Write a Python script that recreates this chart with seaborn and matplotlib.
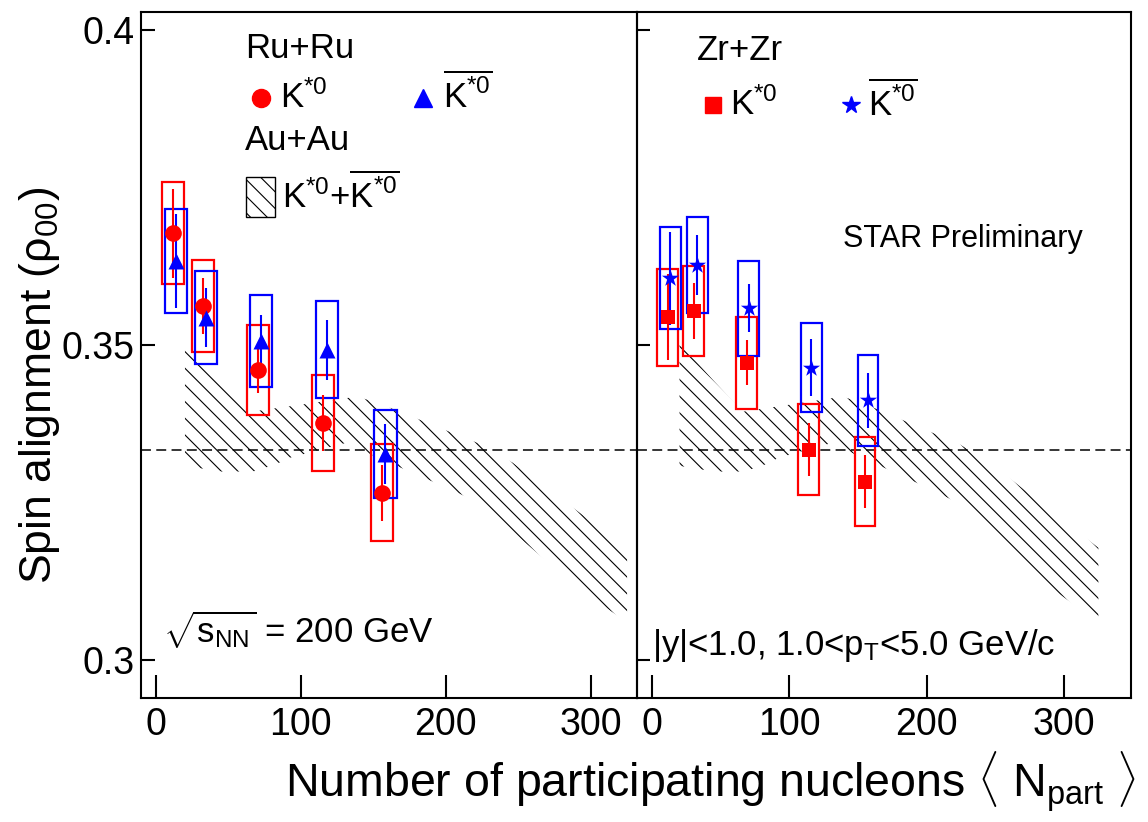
import numpy as np
import pandas as pd
import matplotlib
matplotlib.use("Agg")
import matplotlib.pyplot as plt
from matplotlib.patches import Rectangle
import seaborn as sns

# ---------------- data ----------------
# Ru+Ru
ru_k_x = [12.1, 32.3, 70.4, 115.2, 156.1]
ru_k_y = [0.3677, 0.3562, 0.3460, 0.3376, 0.3265]
ru_k_stat = [0.0071, 0.0045, 0.0037, 0.0044, 0.0045]
ru_k_sys = [0.0081, 0.0073, 0.0071, 0.0076, 0.0077]

ru_kb_x = [13.9, 34.6, 72.3, 117.8, 158.4]
ru_kb_y = [0.3633, 0.3543, 0.3507, 0.3492, 0.3327]
ru_kb_stat = [0.0075, 0.0047, 0.0040, 0.0047, 0.0047]
ru_kb_sys = [0.0083, 0.0074, 0.0073, 0.0077, 0.0070]

# Zr+Zr
zr_k_x = [11.4, 30.5, 68.9, 114.2, 155.1]
zr_k_y = [0.3544, 0.3554, 0.3472, 0.3334, 0.3283]
zr_k_stat = [0.0068, 0.0045, 0.0036, 0.0042, 0.0042]
zr_k_sys = [0.0077, 0.0072, 0.0073, 0.0072, 0.0071]

zr_kb_x = [13.3, 32.9, 70.5, 116.1, 157.3]
zr_kb_y = [0.3606, 0.3627, 0.3558, 0.3464, 0.3412]
zr_kb_stat = [0.0074, 0.0048, 0.0038, 0.0045, 0.0044]
zr_kb_sys = [0.0081, 0.0076, 0.0075, 0.0071, 0.0072]

# Au+Au band (upper / lower edges)
au_up_x = [20.1, 45.4, 66.1, 84.2, 102.8, 138.6, 153.1, 187.6, 204.8, 223.4, 246.1, 286.8, 325.0]
au_up_y = [0.3503, 0.3442, 0.3394, 0.3400, 0.3406, 0.3418, 0.3408, 0.3376, 0.3360, 0.3343, 0.3313, 0.3243, 0.3178]
au_lo_x = [20.1, 45.4, 67.0, 82.2, 92.5, 130.4, 203.9, 221.2, 226.9, 294.4, 325.0]
au_lo_y = [0.3308, 0.3299, 0.3299, 0.3310, 0.3321, 0.3344, 0.3270, 0.3251, 0.3241, 0.3108, 0.3060]

ref_level = 1.0 / 3.0
x_ticks = [0, 100, 200, 300]
y_ticks = [0.3, 0.35, 0.4]
y_ticklabels = ["0.3", "0.35", "0.4"]

# ---------------- style ----------------
sns.set_style("ticks")
plt.rcParams["font.family"] = ["Liberation Sans", "DejaVu Sans"]
plt.rcParams["mathtext.fontset"] = "custom"
plt.rcParams["mathtext.rm"] = "Liberation Sans"
plt.rcParams["mathtext.it"] = "Liberation Sans:italic"
plt.rcParams["mathtext.bf"] = "Liberation Sans:bold"
plt.rcParams["mathtext.sf"] = "Liberation Sans"
plt.rcParams["hatch.linewidth"] = 0.8
plt.rcParams["hatch.color"] = "black"
for key in ("text.color", "axes.labelcolor", "xtick.color", "ytick.color",
            "axes.edgecolor", "xtick.labelcolor", "ytick.labelcolor"):
    plt.rcParams[key] = "black"

BOX_HW = 7.6
RED = "#ff0000"
BLUE = "#0000ff"
HATCH = "\\\\"

fig = plt.figure(figsize=(11.48, 8.22), dpi=100)
ax1 = fig.add_axes([0.1224, 0.1512, 0.4328, 0.8346])
ax2 = fig.add_axes([0.5552, 0.1512, 0.4298, 0.8346])
ax1.set_xlim(-10.55, 332.1)
ax2.set_xlim(-10.6, 348.6)
for ax in (ax1, ax2):
    ax.set_ylim(0.2940, 0.4029)


def draw_band(ax):
    px = list(au_up_x) + list(au_lo_x[::-1])
    py = list(au_up_y) + list(au_lo_y[::-1])
    ax.fill(px, py, facecolor="none", edgecolor="black", linewidth=0,
            hatch=HATCH, zorder=1)


def draw_series(ax, xs, ys, stat, sysr, color, marker, ms):
    for x, y, sy in zip(xs, ys, sysr):
        ax.add_patch(Rectangle((x - BOX_HW, y - sy), 2 * BOX_HW, 2 * sy,
                               fill=False, edgecolor=color, lw=1.6, zorder=3))
    ax.errorbar(xs, ys, yerr=stat, fmt="none", ecolor=color,
                elinewidth=1.5, capsize=0, zorder=4)
    df = pd.DataFrame({"x": xs, "y": ys})
    sns.scatterplot(data=df, x="x", y="y", marker=marker, color=color,
                    s=ms ** 2, linewidth=0, ax=ax, zorder=5, legend=False)


for ax in (ax1, ax2):
    draw_band(ax)
    ax.axhline(ref_level, color="black", lw=1.1, dashes=(6.5, 3.5), zorder=2)

draw_series(ax1, ru_k_x, ru_k_y, ru_k_stat, ru_k_sys, RED, "o", 12)
draw_series(ax1, ru_kb_x, ru_kb_y, ru_kb_stat, ru_kb_sys, BLUE, "^", 11.5)
draw_series(ax2, zr_k_x, zr_k_y, zr_k_stat, zr_k_sys, RED, "s", 9.6)
draw_series(ax2, zr_kb_x, zr_kb_y, zr_kb_stat, zr_kb_sys, BLUE, "*", 13)

for ax in (ax1, ax2):
    ax.set_xlabel("")
    ax.set_ylabel("")
    ax.set_xticks(x_ticks)
    ax.set_yticks(y_ticks)
    ax.minorticks_off()
    for sp in ax.spines.values():
        sp.set_visible(True)
        sp.set_linewidth(1.5)
        sp.set_color("black")
    ax.tick_params(axis="both", direction="in", width=1.5, labelsize=27,
                   top=False, right=False, colors="black")
    ax.tick_params(axis="x", length=16.5, pad=7)
    ax.tick_params(axis="y", length=10, pad=4)

ax1.set_yticklabels(y_ticklabels)
ax2.tick_params(axis="y", labelleft=False, length=9)
ax2.patch.set_alpha(0.0)

# ---------------- legends / annotations ----------------
FS = 25
ax1.text(0.2103, 0.9325, "Ru+Ru", transform=ax1.transAxes, fontsize=FS, va="baseline")
ax1.plot([0.2419], [0.8738], marker="o", ms=13, color=RED, transform=ax1.transAxes, ls="none")
ax1.text(0.2807, 0.8606, r"$\mathrm{K}^{*0}$", transform=ax1.transAxes, fontsize=FS, va="baseline")
ax1.plot([0.5679], [0.8738], marker="^", ms=12.5, color=BLUE, transform=ax1.transAxes, ls="none")
ax1.text(0.6082, 0.8606, r"$\overline{\mathrm{K}^{*0}}$", transform=ax1.transAxes, fontsize=FS, va="baseline")
ax1.text(0.2103, 0.7984, "Au+Au", transform=ax1.transAxes, fontsize=FS, va="baseline")
ax1.add_patch(Rectangle((0.2123, 0.7003), 0.0584, 0.0592, transform=ax1.transAxes,
                        facecolor="white", edgecolor="black", lw=1.0, hatch=HATCH, zorder=6))
ax1.text(0.2842, 0.7134, r"$\mathrm{K}^{*0}$+$\overline{\mathrm{K}^{*0}}$",
         transform=ax1.transAxes, fontsize=FS, va="baseline")
ax1.text(0.0447, 0.0797, r"$\sqrt{\mathrm{s}_{\mathrm{NN}}}$ = 200 GeV",
         transform=ax1.transAxes, fontsize=FS, va="baseline")

ax2.text(0.1208, 0.9295, "Zr+Zr", transform=ax2.transAxes, fontsize=FS, va="baseline")
ax2.plot([0.1532], [0.864], marker="s", ms=11, color=RED, transform=ax2.transAxes, ls="none")
ax2.text(0.1877, 0.8493, r"$\mathrm{K}^{*0}$", transform=ax2.transAxes, fontsize=FS, va="baseline")
ax2.plot([0.4327], [0.864], marker="*", ms=13, color=BLUE, transform=ax2.transAxes, ls="none")
ax2.text(0.4672, 0.8493, r"$\overline{\mathrm{K}^{*0}}$", transform=ax2.transAxes, fontsize=FS, va="baseline")
ax2.text(0.4167, 0.657, "STAR Preliminary", transform=ax2.transAxes, fontsize=22, va="baseline")
ax2.text(0.0296, 0.0622, r"|y|<1.0, 1.0<$\mathrm{p}_{\mathrm{T}}$<5.0 GeV/c",
         transform=ax2.transAxes, fontsize=FS, va="baseline")

fig.text(0.0348, 0.5316, r"Spin alignment (ρ$_{00}$)", rotation=90,
         ha="center", va="center", fontsize=32)
fig.text(0.619, 0.0292,
         r"Number of participating nucleons $\langle$ N$_{\mathrm{part}}$ $\rangle$",
         ha="center", va="baseline", fontsize=33.5)

fig.savefig("out.png", dpi=100)
